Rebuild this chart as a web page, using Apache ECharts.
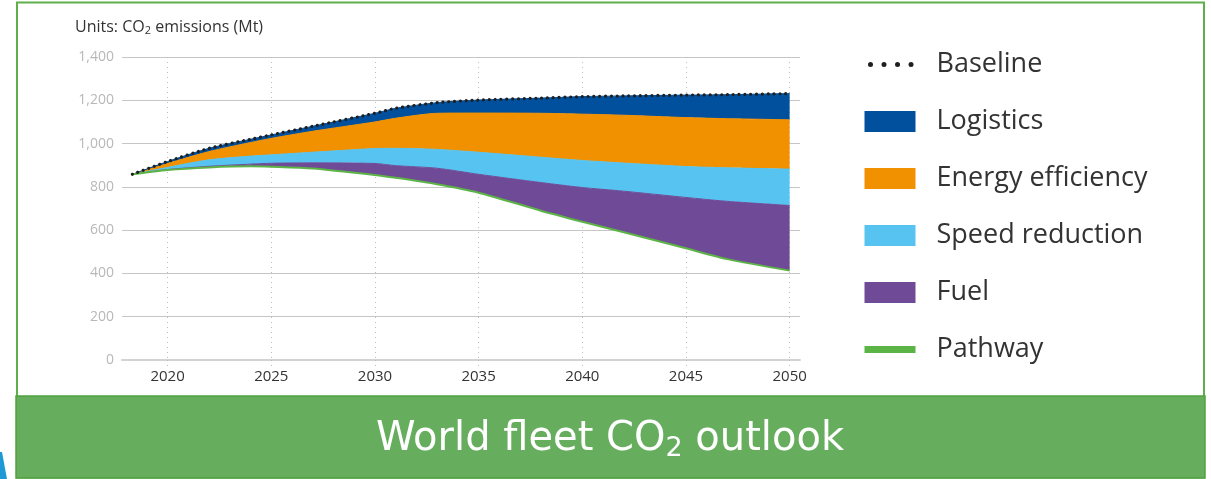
<!DOCTYPE html>
<html>
<head>
<meta charset="utf-8">
<title>World fleet CO2 outlook</title>
<script src="https://cdn.jsdelivr.net/npm/echarts@6/dist/echarts.min.js"></script>
<style>
  html, body { margin: 0; padding: 0; background: #ffffff; }
  #chart { width: 1211px; height: 479px; }
</style>
</head>
<body>
<div id="chart"></div>
<script>
// Years of the projection (first point is the current fleet estimate)
const years = [2018.3, 2020, 2022, 2024, 2025, 2027, 2030, 2031, 2033, 2035, 2038, 2040, 2042, 2045, 2047, 2050];

// Remaining emissions on the decarbonisation pathway (Mt CO2)
const pathway = [858, 878, 890, 895, 893, 885, 855, 842, 812, 773, 690, 639, 590, 516, 466, 413];
// Reduction wedges stacked on top of the pathway (Mt CO2)
const fuel = [0, 2, 5, 10, 16, 26, 53, 56, 74, 85, 130, 158, 190, 235, 267, 301];
const speedReduction = [0, 10, 30, 37, 39, 49, 69, 80, 87, 102, 117, 125, 130, 143, 155, 168];
const energyEfficiency = [0, 18, 38, 63, 76, 97, 123, 139, 167, 181, 203, 214, 221, 226, 227, 228];
const logistics = [0, 9, 15, 15, 16, 23, 40, 46, 49, 60, 70, 81, 89, 104, 111, 121];
// Business-as-usual emissions
const baseline = [858, 917, 978, 1020, 1040, 1080, 1140, 1163, 1189, 1201, 1210, 1217, 1220, 1224, 1226, 1231];

// Axis ticks
const xTicks = [2020, 2025, 2030, 2035, 2040, 2045, 2050];
const yTicks = [0, 200, 400, 600, 800, 1000, 1200, 1400];

const FONT = '"Open Sans", Lato, sans-serif';
const COLORS = {
  baseline: '#1f1f1f',
  logistics: '#00509e',
  efficiency: '#f29100',
  speed: '#56c3f0',
  fuel: '#6f4a97',
  pathway: '#5cb346'
};

// Points are stored as [emissions, year] so that the first (stacked) dimension is the value;
// encode maps column 1 to the x axis and column 0 to the y axis.
const pair = arr => arr.map((v, i) => [v, years[i]]);
const ENCODE = { x: 1, y: 0 };

function area(name, data, color) {
  return {
    name: name,
    type: 'line',
    stack: 'total',
    data: pair(data),
    encode: ENCODE,
    smooth: 0.25,
    symbol: 'none',
    lineStyle: { width: 1, color: color },
    itemStyle: { color: color },
    areaStyle: { color: color, opacity: 1 },
    z: 2
  };
}

// legend entries for the two line series: line only, no marker
const HIDDEN_MARKER = { color: 'rgba(0,0,0,0)', borderWidth: 0, opacity: 0 };

const chart = echarts.init(document.getElementById('chart'), null, { renderer: 'canvas' });

chart.setOption({
  animation: false,
  backgroundColor: '#ffffff',
  textStyle: { fontFamily: FONT },
  graphic: [
    // outer panel frame
    { type: 'rect', z: 0, shape: { x: 17, y: 2.5, width: 1187, height: 475 },
      style: { fill: '#ffffff', stroke: '#5fb04b', lineWidth: 2 } },
    // caption banner
    { type: 'rect', z: 1, shape: { x: 16, y: 396, width: 1189, height: 82 },
      style: { fill: '#66ae5e', stroke: '#4fa23f', lineWidth: 1.5 } },
    // neighbouring page element peeking in at the lower-left corner
    { type: 'polygon', z: 1, shape: { points: [[0, 452], [2, 452], [7, 479], [0, 479]] },
      style: { fill: '#1d9ad6' } }
  ],
  title: [
    {
      text: 'Units: CO{sub|2} emissions (Mt)',
      left: 75,
      top: 18,
      padding: 0,
      textStyle: {
        fontFamily: FONT, fontSize: 16, fontWeight: 'normal', color: '#333333',
        rich: { sub: { fontFamily: FONT, fontSize: 11, color: '#333333', padding: [7, 0, 0, 0] } }
      }
    },
    {
      text: 'World fleet CO{sub|2} outlook',
      left: 610,
      textAlign: 'center',
      top: 417,
      padding: 0,
      textStyle: {
        fontFamily: '"DejaVu Sans", Verdana, sans-serif', fontSize: 40, fontWeight: 'normal', color: '#ffffff',
        rich: { sub: { fontFamily: '"DejaVu Sans", Verdana, sans-serif', fontSize: 27, color: '#ffffff', padding: [18, 0, 0, 0] } }
      }
    }
  ],
  legend: {
    orient: 'vertical',
    left: 861,
    top: 51,
    padding: 0,
    itemWidth: 51,
    itemHeight: 21,
    itemGap: 30,
    selectedMode: false,
    textStyle: { fontFamily: FONT, fontSize: 27, color: '#333333', padding: [0, 0, 0, 16] },
    data: [
      { name: 'Baseline', itemStyle: HIDDEN_MARKER,
        lineStyle: { color: COLORS.baseline, width: 5, type: [0.01, 13.5], cap: 'round', dashOffset: -6 } },
      { name: 'Logistics', icon: 'rect', itemStyle: { color: COLORS.logistics } },
      { name: 'Energy efficiency', icon: 'rect', itemStyle: { color: COLORS.efficiency } },
      { name: 'Speed reduction', icon: 'rect', itemStyle: { color: COLORS.speed } },
      { name: 'Fuel', icon: 'rect', itemStyle: { color: COLORS.fuel } },
      { name: 'Pathway', itemStyle: HIDDEN_MARKER,
        lineStyle: { color: COLORS.pathway, width: 7, type: 'solid' } }
    ]
  },
  grid: { left: 122, right: 411, top: 57, bottom: 119, containLabel: false },
  xAxis: {
    type: 'value',
    min: 2017.8,
    max: 2050.5,
    axisLine: { show: true, lineStyle: { color: '#d2d2d2', width: 2 } },
    axisTick: {
      show: true, length: 8, customValues: xTicks,
      lineStyle: { color: '#bdbdbd', width: 1, type: [1, 4] }
    },
    axisLabel: {
      customValues: xTicks, margin: 9,
      fontFamily: FONT, fontSize: 15, color: '#333333',
      formatter: v => String(v)
    },
    splitLine: { show: true, lineStyle: { color: '#bdbdbd', width: 1, type: [1, 4] } }
  },
  yAxis: {
    type: 'value',
    min: yTicks[0],
    max: yTicks[yTicks.length - 1],
    interval: yTicks[1] - yTicks[0],
    axisLine: { show: false },
    axisTick: { show: false },
    axisLabel: {
      margin: 8, fontFamily: FONT, fontSize: 14, color: '#b8b8b8',
      formatter: v => v.toLocaleString('en-US')
    },
    splitLine: { show: true, lineStyle: { color: '#c6c6c6', width: 1 } }
  },
  series: [
    {
      name: 'Pathway',
      type: 'line',
      stack: 'total',
      data: pair(pathway),
      encode: ENCODE,
      smooth: 0.25,
      symbol: 'none',
      lineStyle: { color: COLORS.pathway, width: 2 },
      itemStyle: { color: COLORS.pathway },
      z: 4
    },
    area('Fuel', fuel, COLORS.fuel),
    area('Speed reduction', speedReduction, COLORS.speed),
    area('Energy efficiency', energyEfficiency, COLORS.efficiency),
    area('Logistics', logistics, COLORS.logistics),
    {
      name: 'Baseline',
      type: 'line',
      data: pair(baseline),
      encode: ENCODE,
      smooth: 0.25,
      symbol: 'none',
      lineStyle: { color: COLORS.baseline, width: 3.2, type: [0.01, 5.8], cap: 'round' },
      itemStyle: { color: COLORS.baseline },
      z: 5
    }
  ]
});
</script>
</body>
</html>
